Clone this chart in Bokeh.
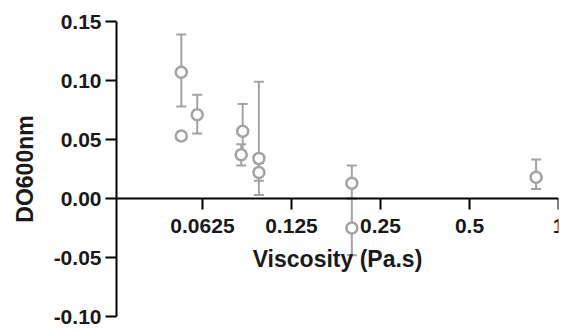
from bokeh.plotting import figure
from bokeh.models import (Whisker, TeeHead, ColumnDataSource, FixedTicker,
                          NumeralTickFormatter, CustomJSTickFormatter, Range1d)
from bokeh.embed import file_html
from bokeh.resources import INLINE

# Data
viscosity = [0.053, 0.053, 0.060, 0.0855, 0.0845, 0.097, 0.097, 0.20, 0.20, 0.84]
do600 = [0.107, 0.053, 0.071, 0.057, 0.037, 0.034, 0.022, 0.013, -0.025, 0.018]
err_low = [0.078, 0.050, 0.055, 0.036, 0.028, 0.003, 0.015, 0.000, -0.048, 0.008]
err_high = [0.139, 0.056, 0.088, 0.080, 0.046, 0.099, 0.030, 0.028, 0.000, 0.033]

x_ticks = [0.0625, 0.125, 0.25, 0.5, 1]
y_ticks = [-0.10, -0.05, 0.0, 0.05, 0.10, 0.15]

GRAY = "#a3a3a3"
FONT = "Liberation Sans"

src = ColumnDataSource(dict(x=viscosity, y=do600, lo=err_low, hi=err_high))

p = figure(width=565, height=330, x_axis_type="log",
           x_range=Range1d(0.032, 1.0), y_range=Range1d(-0.10, 0.15),
           output_backend="svg", toolbar_location=None,
           min_border_left=116, min_border_right=7,
           min_border_top=21, min_border_bottom=14)

p.outline_line_color = None
p.xgrid.visible = False
p.ygrid.visible = False
p.background_fill_color = "white"
p.border_fill_color = "white"

w = Whisker(base="x", lower="lo", upper="hi", source=src, dimension="height",
            line_color=GRAY, line_width=2, level="underlay",
            lower_head=TeeHead(size=10, line_color=GRAY, line_width=2),
            upper_head=TeeHead(size=10, line_color=GRAY, line_width=2))
p.add_layout(w)

p.scatter("x", "y", source=src, marker="circle", size=11,
          fill_color="white", line_color=GRAY, line_width=2.5)

# X axis
xa = p.xaxis[0]
xa.fixed_location = 0
xa.ticker = FixedTicker(ticks=x_ticks)
xa.formatter = CustomJSTickFormatter(code="return tick.toString();")
xa.axis_label = "Viscosity (Pa.s)"

ya = p.yaxis[0]
ya.ticker = FixedTicker(ticks=y_ticks)
ya.formatter = NumeralTickFormatter(format="0.00")
ya.axis_label = "DO600nm"

for ax in (xa, ya):
    ax.axis_line_width = 2
    ax.axis_line_color = "black"
    ax.major_tick_line_width = 2
    ax.major_tick_line_color = "black"
    ax.major_tick_in = 0
    ax.minor_tick_line_color = None
    ax.major_label_text_font = FONT
    ax.major_label_text_font_style = "bold"
    ax.major_label_text_font_size = "21px"
    ax.major_label_text_color = "#1a1a1a"
    ax.axis_label_text_font = FONT
    ax.axis_label_text_font_style = "bold"
    ax.axis_label_text_font_size = "23px"
    ax.axis_label_text_color = "#1a1a1a"

xa.major_tick_out = 11
xa.major_label_standoff = 9
xa.axis_label_standoff = 10
ya.major_tick_out = 11
ya.major_label_standoff = 4
ya.axis_label_standoff = 13

open("out.html", "w").write(file_html(p, INLINE))
